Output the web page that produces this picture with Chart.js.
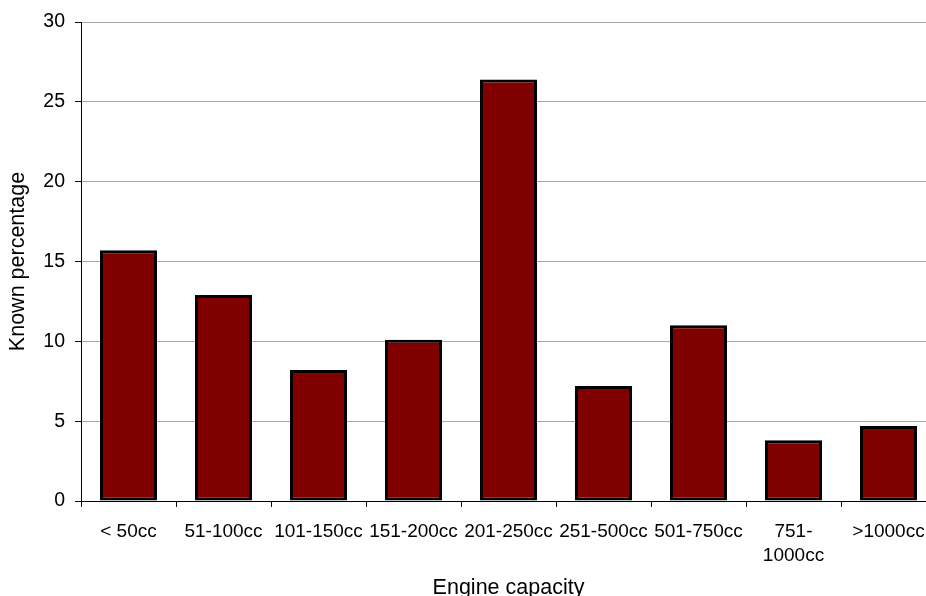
<!DOCTYPE html>
<html>
<head>
<meta charset="utf-8">
<script src="https://cdn.jsdelivr.net/npm/chart.js@4/dist/chart.umd.min.js"></script>
<style>
  html, body { margin: 0; padding: 0; background: #fff; overflow: hidden; }
  #wrap { position: absolute; left: 0; top: 0; width: 940px; height: 596px; }
</style>
</head>
<body>
<div id="wrap"><canvas id="c" width="940" height="596"></canvas></div>
<script>
// Engine capacity classes (multi-line labels are arrays)
const categories = ['< 50cc', '51-100cc', '101-150cc', '151-200cc', '201-250cc',
                    '251-500cc', '501-750cc', ['751-', '1000cc'], '>1000cc'];
// Known percentage per class
const knownPercentage = [15.7, 12.9, 8.2, 10.1, 26.4, 7.2, 11.0, 3.8, 4.7];
// Value axis ticks
const yTicks = [0, 5, 10, 15, 20, 25, 30];

const FONT = 'Liberation Sans, Arial, sans-serif';

new Chart(document.getElementById('c'), {
  type: 'bar',
  data: {
    labels: categories,
    datasets: [{
      data: knownPercentage,
      backgroundColor: '#800000',
      borderColor: '#000000',
      borderWidth: 3,
      borderSkipped: false,
      barPercentage: 0.6,
      categoryPercentage: 1.0
    }]
  },
  options: {
    responsive: false,
    animation: false,
    devicePixelRatio: 1,
    layout: { padding: { top: 22, right: 4, bottom: 0, left: 0 } },
    plugins: { legend: { display: false }, tooltip: { enabled: false } },
    scales: {
      x: {
        offset: true,
        grid: { display: true, drawOnChartArea: false, offset: true, tickLength: 6, tickColor: '#000', color: '#000' },
        border: { display: true, color: '#000', width: 1 },
        ticks: { color: '#000', font: { family: FONT, size: 19, lineHeight: 1.3 }, padding: 12, maxRotation: 0, autoSkip: false },
        title: { display: true, text: 'Engine capacity', color: '#000',
                 font: { family: FONT, size: 21.5, lineHeight: 0.84 }, padding: { top: 0, bottom: -1 } },
        afterFit(scale) { scale.height = 95; }
      },
      y: {
        min: 0, max: 30,
        afterBuildTicks(scale) { scale.ticks = yTicks.map(v => ({ value: v })); },
        grid: { color: '#a6a6a6', lineWidth: 1, tickLength: 6, tickColor: '#000' },
        border: { display: true, color: '#000', width: 1 },
        ticks: { color: '#000', font: { family: FONT, size: 19.5 }, padding: 10 },
        title: { display: true, text: 'Known percentage', color: '#000',
                 font: { family: FONT, size: 21.5, lineHeight: 0.84 }, padding: { top: 9.5, bottom: 0 } },
        afterFit(scale) { scale.width = 81; }
      }
    }
  }
});
</script>
</body>
</html>
